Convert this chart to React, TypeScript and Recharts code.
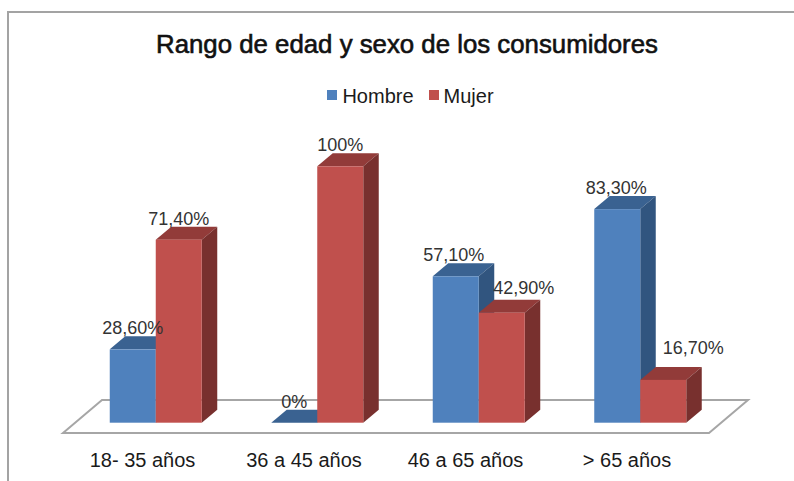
import React from 'react';
import { BarChart, Bar, XAxis, YAxis, Legend, LabelList } from 'recharts';

const categories = ['18- 35 años', '36 a 45 años', '46 a 65 años', '> 65 años'];
const hombre = [28.6, 0, 57.1, 83.3];
const mujer = [71.4, 100, 42.9, 16.7];

const data = categories.map((name, i) => ({ name, hombre: hombre[i], mujer: mujer[i] }));

const FONT = '"Liberation Sans", Arial, sans-serif';
const DEPTH_X = 15.5;
const DEPTH_Y = 13;

// hand-placed labels in the original, offsets from the bar centre
const hombreNudge = [[0, 0], [0, 0], [-2, 0], [-1, 0]];
const mujerNudge = [[0, 0], [0, 0], [22, -4], [30, -11]];

const makeBox = (front: string, top: string, side: string) => (props: any) => {
    const { x, y, width, height } = props;
    const r = x + width;
    const b = y + height;
    return (
        <g>
            <polygon points={`${x},${y} ${x + DEPTH_X},${y - DEPTH_Y} ${r + DEPTH_X},${y - DEPTH_Y} ${r},${y}`} fill={top} />
            <polygon points={`${r},${y} ${r + DEPTH_X},${y - DEPTH_Y} ${r + DEPTH_X},${b - DEPTH_Y} ${r},${b}`} fill={side} />
            <rect x={x} y={y} width={width} height={height} fill={front} />
        </g>
    );
};

const makeLabel = (nudge: number[][]) => (props: any) => {
    const { x, y, width, value, index } = props;
    const text = Number.isInteger(value) ? `${value}%` : `${value.toFixed(2).replace('.', ',')}%`;
    return (
        <text
            x={x + width / 2 + nudge[index][0]}
            y={y - 15 + nudge[index][1]}
            textAnchor="middle"
            fontFamily={FONT}
            fontSize={18}
            fill="#333"
        >
            {text}
        </text>
    );
};

const renderLegend = ({ payload }: any) => (
    <div style={{ display: 'flex', justifyContent: 'center', fontFamily: FONT, fontSize: 20, color: '#1a1a1a' }}>
        {payload.map((item: any) => (
            <div key={item.value} style={{ display: 'flex', alignItems: 'center', marginRight: 15 }}>
                <span style={{ width: 10, height: 10, marginRight: 5, marginTop: -3, background: item.color }} />
                {item.value}
            </div>
        ))}
    </div>
);

export default function App() {
    return (
        <div style={{ position: 'absolute', left: 0, top: 0, width: 794, height: 481, background: '#fff' }}>
            <BarChart
                width={794}
                height={481}
                data={data}
                barGap={0}
                barSize={46}
                margin={{ top: 166.3, right: 73.25, bottom: 0, left: 74.75 }}
            >
                <path d="M8,481 L8,12 L794,12" fill="none" stroke="#a3a3a3" strokeWidth={2} />
                <text x={407} y={53} textAnchor="middle" fontFamily={FONT} fontSize={25.8} stroke="#111" strokeWidth={0.6} fill="#111">
                    Rango de edad y sexo de los consumidores
                </text>
                <polygon points="63,433 102,400 748,400 709,433" fill="#fff" stroke="#a6a6a6" strokeWidth={2} />
                <XAxis
                    dataKey="name"
                    height={58.3}
                    axisLine={false}
                    tickLine={false}
                    dx={-13}
                    tickMargin={24}
                    tick={{ fontSize: 20, fontFamily: FONT, fill: '#1a1a1a' }}
                />
                <YAxis hide domain={[0, 100]} />
                <Legend
                    layout="horizontal"
                    align="center"
                    verticalAlign="middle"
                    content={renderLegend}
                    wrapperStyle={{ top: 85, left: 21, width: 794 }}
                />
                <Bar dataKey="hombre" name="Hombre" fill="#4F81BD" isAnimationActive={false} shape={makeBox('#4F81BD', '#3A6291', '#31557F')}>
                    <LabelList dataKey="hombre" content={makeLabel(hombreNudge)} />
                </Bar>
                <Bar dataKey="mujer" name="Mujer" fill="#C0504D" isAnimationActive={false} shape={makeBox('#C0504D', '#923B39', '#78302E')}>
                    <LabelList dataKey="mujer" content={makeLabel(mujerNudge)} />
                </Bar>
            </BarChart>
        </div>
    );
}
